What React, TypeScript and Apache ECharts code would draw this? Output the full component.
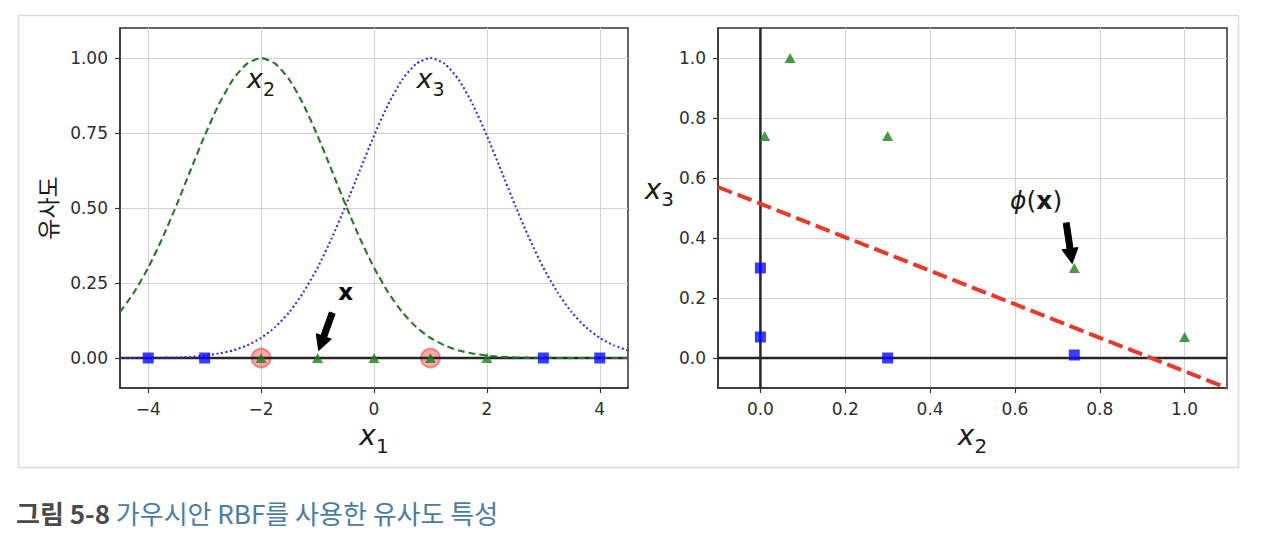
import React, { useEffect, useRef } from "react";
import * as echarts from "echarts";

// ---------- data ----------
const curveX = [-4.5, -4.25, -4, -3.75, -3.5, -3.25, -3, -2.75, -2.5, -2.25, -2, -1.75, -1.5, -1.25, -1, -0.75, -0.5, -0.25, 0, 0.25, 0.5, 0.75, 1, 1.25, 1.5, 1.75, 2, 2.25, 2.5, 2.75, 3, 3.25, 3.5, 3.75, 4, 4.25, 4.5];
const x2Curve = [0.153, 0.219, 0.301, 0.399, 0.509, 0.626, 0.741, 0.845, 0.928, 0.981, 1.0, 0.981, 0.928, 0.845, 0.741, 0.626, 0.509, 0.399, 0.301, 0.219, 0.153, 0.103, 0.067, 0.042, 0.025, 0.015, 0.008, 0.004, 0.002, 0.001, 0.001, 0, 0, 0, 0, 0, 0];
const x3Curve = [0, 0, 0.001, 0.001, 0.002, 0.004, 0.008, 0.015, 0.025, 0.042, 0.067, 0.103, 0.153, 0.219, 0.301, 0.399, 0.509, 0.626, 0.741, 0.845, 0.928, 0.981, 1.0, 0.981, 0.928, 0.845, 0.741, 0.626, 0.509, 0.399, 0.301, 0.219, 0.153, 0.103, 0.067, 0.042, 0.025];

const negX1 = [-4, -3, 3, 4];
const posX1 = [-2, -1, 0, 1, 2];
const landmarkX1 = [-2, 1];

const negX2 = [0.3, 0.74, 0.0, 0.0];
const negX3 = [0.0, 0.01, 0.3, 0.07];
const posX2 = [1.0, 0.74, 0.3, 0.07, 0.01];
const posX3 = [0.07, 0.3, 0.74, 1.0, 0.74];

const boundaryX2 = [-0.1, 1.1];
const boundaryX3 = [0.57, -0.1];

const leftXTicks = [-4, -2, 0, 2, 4];
const leftYTicks = [0, 0.25, 0.5, 0.75, 1.0];
const rightTicks = [0, 0.2, 0.4, 0.6, 0.8, 1.0];

const curveLabelX = [-2, 1];
const curveLabelY = [0.9, 0.9];
const curveLabelSub = ["2", "3"];

const leftAnnotText = [-0.5, 0.2];
const leftArrowTail = [-0.74, 0.15];
const leftArrowTip = [-0.98, 0.025];
const rightAnnotText = [0.65, 0.5];
const rightArrowTail = [0.721, 0.45];
const rightArrowTip = [0.735, 0.315];

const captionHead = "그림 5-8";
const captionBody = "가우시안 RBF를 사용한 유사도 특성";

// ---------- styles ----------
const INK = "#1a1a1a";
const AXIS = "#333333";
const GRIDLINE = "#d2d2d2";
const MATH_FONT = "DejaVu Sans";

function mathRich(size: number) {
  const sub = Math.round(size * 0.7);
  return {
    x: { fontFamily: MATH_FONT, fontStyle: "italic", fontSize: size, color: INK, fill: INK, verticalAlign: "bottom", padding: [0, 0, Math.round(size * 0.22), 0] },
    s: { fontFamily: MATH_FONT, fontSize: sub, color: INK, fill: INK, verticalAlign: "bottom" },
  };
}

function arrowPolygon(a: number[], b: number[]) {
  const dx = b[0] - a[0];
  const dy = b[1] - a[1];
  const len = Math.hypot(dx, dy) || 1;
  const ux = dx / len, uy = dy / len;
  const nx = -uy, ny = ux;
  const w = 3, hw = 8, hl = 15;
  const bx = b[0] - ux * hl, by = b[1] - uy * hl;
  const pts = [
    [a[0] + nx * w, a[1] + ny * w],
    [bx + nx * w, by + ny * w],
    [bx + nx * hw, by + ny * hw],
    [b[0], b[1]],
    [bx - nx * hw, by - ny * hw],
    [bx - nx * w, by - ny * w],
    [a[0] - nx * w, a[1] - ny * w],
  ];
  return { type: "polygon", shape: { points: pts }, style: { fill: "#000", stroke: "#000", lineWidth: 1 } };
}

function valueAxis(gridIndex: number, min: number, max: number, ticks: number[], fmt: (v: number) => string, margin: number) {
  return {
    gridIndex,
    type: "value",
    min,
    max,
    axisLine: { show: true, onZero: false, lineStyle: { color: AXIS, width: 1.5 } },
    axisTick: { show: true, customValues: ticks, length: 5, lineStyle: { color: AXIS, width: 1.2 } },
    axisLabel: { customValues: ticks, formatter: fmt, margin, fontFamily: MATH_FONT, fontSize: 17, color: "#2e2e2e" },
    splitLine: { show: true, lineStyle: { color: GRIDLINE, width: 1 } },
  };
}

export default function App() {
  const ref = useRef<HTMLDivElement>(null);

  useEffect(() => {
    if (!ref.current) return;
    const chart = echarts.init(ref.current, undefined, { renderer: "svg" });

    const leftCurve2 = curveX.map((x, i) => [x, x2Curve[i]]);
    const leftCurve3 = curveX.map((x, i) => [x, x3Curve[i]]);
    const leftNeg = negX1.map((x) => [x, 0]);
    const leftPos = posX1.map((x) => [x, 0]);
    const leftLand = landmarkX1.map((x) => [x, 0]);
    const rightNeg = negX2.map((x, i) => [x, negX3[i]]);
    const rightPos = posX2.map((x, i) => [x, posX3[i]]);
    const boundary = boundaryX2.map((x, i) => [x, boundaryX3[i]]);

    const leftX = valueAxis(0, -4.5, 4.5, leftXTicks, (v) => String(v).replace("-", "\u2212"), 12);
    const leftY = valueAxis(0, -0.1, 1.1, leftYTicks, (v) => v.toFixed(2), 12);
    const rightX = valueAxis(1, -0.1, 1.1, rightTicks, (v) => v.toFixed(1), 12);
    const rightY = valueAxis(1, -0.1, 1.1, rightTicks, (v) => v.toFixed(1), 12);

    const option: any = {
      animation: false,
      backgroundColor: "#ffffff",
      grid: [
        { left: 120, top: 28, width: 508, height: 360, show: true, borderColor: AXIS, borderWidth: 1.5 },
        { left: 718, top: 28, width: 509, height: 360, show: true, borderColor: AXIS, borderWidth: 1.5 },
      ],
      xAxis: [
        { ...leftX, name: "{x|x}{s|1}", nameLocation: "middle", nameGap: 32, nameTextStyle: { rich: mathRich(28) } },
        { ...rightX, name: "{x|x}{s|2}", nameLocation: "middle", nameGap: 32, nameTextStyle: { rich: mathRich(28) } },
      ],
      yAxis: [
        { ...leftY, name: "유사도", nameLocation: "middle", nameRotate: 90, nameGap: 62, nameTextStyle: { fontFamily: "Noto Sans CJK KR", fontSize: 23, color: INK } },
        { ...rightY, name: "{x|x}{s|3}", nameLocation: "middle", nameRotate: 0, nameGap: 40, nameTextStyle: { rich: mathRich(28), padding: [0, 0, 32, 0] } },
      ],
      graphic: [
        { type: "rect", left: 16, top: 13, shape: { width: 1220, height: 452 }, style: { fill: "none", stroke: "#dcdcdc", lineWidth: 1.5 }, silent: true },
        {
          type: "text",
          left: 16,
          top: 499,
          silent: true,
          style: {
            text: `{a|${captionHead}} {b|${captionBody}}`,
            rich: {
              a: { fontFamily: "Noto Sans CJK KR", fontSize: 26, fontWeight: "bold", fill: "#4a4a4a" },
              b: { fontFamily: "Noto Sans CJK KR", fontSize: 26, fill: "#4b7ca6" },
            },
            fontFamily: "Noto Sans CJK KR",
            fontSize: 26,
          },
        },
      ],
      series: [
        // ----- left panel -----
        {
          type: "scatter", xAxisIndex: 0, yAxisIndex: 0, z: 1, silent: true,
          data: leftLand, symbol: "circle", symbolSize: 19,
          itemStyle: { color: "rgba(255,0,0,0.42)", borderColor: "rgba(230,30,30,0.55)", borderWidth: 2 },
        },
        {
          type: "line", xAxisIndex: 0, yAxisIndex: 0, z: 2, silent: true,
          data: [[-4.5, 0], [4.5, 0]], showSymbol: false, symbol: "none",
          lineStyle: { color: "#262626", width: 2.5 },
        },
        {
          type: "line", xAxisIndex: 0, yAxisIndex: 0, z: 3, silent: true,
          data: leftCurve2, showSymbol: false, symbol: "none", smooth: 0.2,
          lineStyle: { color: "#237a23", width: 2.1, type: [7, 4] },
        },
        {
          type: "line", xAxisIndex: 0, yAxisIndex: 0, z: 3, silent: true,
          data: leftCurve3, showSymbol: false, symbol: "none", smooth: 0.2,
          lineStyle: { color: "#3030e8", width: 2.1, type: [2, 2.6] },
        },
        {
          type: "scatter", xAxisIndex: 0, yAxisIndex: 0, z: 4, silent: true,
          data: leftNeg, symbol: "rect", symbolSize: 11, itemStyle: { color: "#0a0aff" },
        },
        {
          type: "scatter", xAxisIndex: 0, yAxisIndex: 0, z: 4, silent: true,
          data: leftPos, symbol: "triangle", symbolSize: [11, 10], itemStyle: { color: "#1a801a" },
        },
        {
          type: "custom", xAxisIndex: 0, yAxisIndex: 0, z: 5, silent: true,
          dimensions: ["x", "y"], encode: { x: 0, y: 1 },
          data: curveLabelX.map((x, i) => [x, curveLabelY[i]]),
          renderItem: (params: any, api: any) => {
            const p = api.coord([api.value(0), api.value(1)]);
            return {
              type: "text", x: p[0], y: p[1] + 10,
              style: { text: `{x|x}{s|${curveLabelSub[params.dataIndex]}}`, rich: mathRich(27), align: "center", verticalAlign: "bottom" },
            };
          },
        },
        {
          type: "custom", xAxisIndex: 0, yAxisIndex: 0, z: 5, silent: true,
          dimensions: ["tx", "ty", "ax", "ay", "bx", "by"], encode: { x: [0, 2, 4], y: [1, 3, 5] },
          data: [[...leftAnnotText, ...leftArrowTail, ...leftArrowTip]],
          renderItem: (params: any, api: any) => {
            const t = api.coord([api.value(0), api.value(1)]);
            const a = api.coord([api.value(2), api.value(3)]);
            const b = api.coord([api.value(4), api.value(5)]);
            return {
              type: "group",
              children: [
                arrowPolygon(a, b),
                { type: "text", x: t[0], y: t[1] + 5, style: { text: "x", fontFamily: MATH_FONT, fontWeight: "bold", fontSize: 23, fill: "#000", align: "center", verticalAlign: "bottom" } },
              ],
            };
          },
        },
        // ----- right panel -----
        {
          type: "line", xAxisIndex: 1, yAxisIndex: 1, z: 2, silent: true,
          data: [[-0.1, 0], [1.1, 0]], showSymbol: false, symbol: "none",
          lineStyle: { color: "#262626", width: 2.5 },
        },
        {
          type: "line", xAxisIndex: 1, yAxisIndex: 1, z: 2, silent: true,
          data: [[0, -0.1], [0, 1.1]], showSymbol: false, symbol: "none",
          lineStyle: { color: "#262626", width: 2.5 },
        },
        {
          type: "scatter", xAxisIndex: 1, yAxisIndex: 1, z: 4, silent: true,
          data: rightNeg, symbol: "rect", symbolSize: 11, itemStyle: { color: "#0a0aff" },
        },
        {
          type: "scatter", xAxisIndex: 1, yAxisIndex: 1, z: 4, silent: true,
          data: rightPos, symbol: "triangle", symbolSize: [11, 10], itemStyle: { color: "#1a801a" },
        },
        {
          type: "line", xAxisIndex: 1, yAxisIndex: 1, z: 5, silent: true,
          data: boundary, showSymbol: false, symbol: "none",
          lineStyle: { color: "#e8392b", width: 4, type: [15, 6] },
        },
        {
          type: "custom", xAxisIndex: 1, yAxisIndex: 1, z: 5, silent: true,
          dimensions: ["tx", "ty", "ax", "ay", "bx", "by"], encode: { x: [0, 2, 4], y: [1, 3, 5] },
          data: [[...rightAnnotText, ...rightArrowTail, ...rightArrowTip]],
          renderItem: (params: any, api: any) => {
            const t = api.coord([api.value(0), api.value(1)]);
            const a = api.coord([api.value(2), api.value(3)]);
            const b = api.coord([api.value(4), api.value(5)]);
            return {
              type: "group",
              children: [
                arrowPolygon(a, b),
                {
                  type: "text", x: t[0], y: t[1] + 5,
                  style: {
                    text: "{p|\u03d5}{n|(}{b|x}{n|)}",
                    rich: {
                      p: { fontFamily: MATH_FONT, fontStyle: "italic", fontSize: 25, fill: INK },
                      n: { fontFamily: MATH_FONT, fontSize: 25, fill: INK },
                      b: { fontFamily: MATH_FONT, fontWeight: "bold", fontSize: 25, fill: INK },
                    },
                    align: "center", verticalAlign: "bottom",
                  },
                },
              ],
            };
          },
        },
      ],
    };

    chart.setOption(option);
    return () => chart.dispose();
  }, []);

  return (
    <div
      ref={ref}
      style={{ position: "absolute", left: 0, top: 0, width: 1280, height: 536, background: "#fff" }}
    />
  );
}
